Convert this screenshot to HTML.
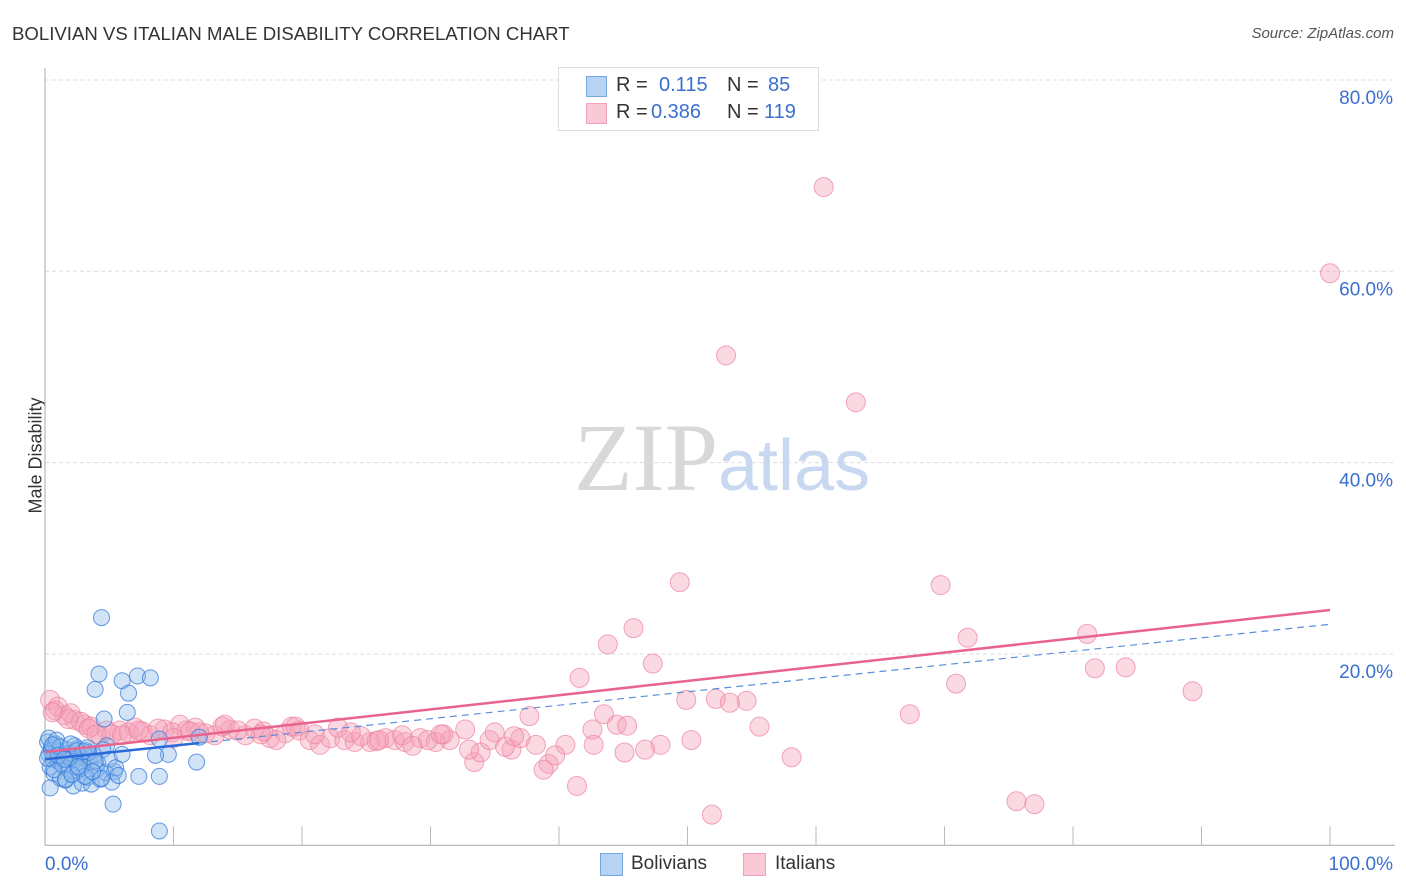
<!DOCTYPE html>
<html><head><meta charset="utf-8"><style>
body{margin:0;background:#fff;font-family:"Liberation Sans",sans-serif}
#wrap{position:relative;width:1406px;height:892px;overflow:hidden}
.t{position:absolute;white-space:nowrap}
</style></head><body>
<div id="wrap">
<div class="t" style="left:12px;top:23px;font-size:18.6px;color:#333">BOLIVIAN VS ITALIAN MALE DISABILITY CORRELATION CHART</div>
<div class="t" style="right:12px;top:25px;font-size:15px;color:#555;font-style:italic">Source: ZipAtlas.com</div>
<div class="t" style="left:-22px;top:445px;font-size:18px;color:#333;transform:rotate(-90deg)">Male Disability</div>
<svg id="plot" width="1406" height="892" style="position:absolute;left:0;top:0"></svg>
<div style="position:absolute;left:558px;top:67px;width:259px;height:62px;border:1px solid #ddd;background:#fff;font-size:20px">
 <div style="position:absolute;left:27px;top:8px;width:19px;height:19px;background:#b8d2f4;border:1px solid #7aa6e0"></div>
 <div class="t" style="left:57px;top:6px;color:#333">R = </div><div class="t" style="left:100px;top:6px;color:#3a6fd0">0.115</div>
 <div class="t" style="left:168px;top:6px;color:#333">N = </div><div class="t" style="left:209px;top:6px;color:#3a6fd0">85</div>
 <div style="position:absolute;left:27px;top:35px;width:19px;height:19px;background:#f9c9d6;border:1px solid #f0a0b8"></div>
 <div class="t" style="left:57px;top:33px;color:#333">R = </div><div class="t" style="left:92px;top:33px;color:#3a6fd0">0.386</div>
 <div class="t" style="left:168px;top:33px;color:#333">N = </div><div class="t" style="left:205px;top:33px;color:#3a6fd0">119</div>
</div>
<div style="position:absolute;left:600px;top:853px;width:21px;height:21px;background:#b8d2f4;border:1px solid #7aa6e0"></div>
<div class="t" style="left:631px;top:853px;font-size:19px;color:#333">Bolivians</div>
<div style="position:absolute;left:743px;top:853px;width:21px;height:21px;background:#f9c9d6;border:1px solid #f0a0b8"></div>
<div class="t" style="left:775px;top:853px;font-size:19px;color:#333">Italians</div>
</div>
<script>
const yTicks=[20,40,60,80];
const yTickLabels=["20.0%","40.0%","60.0%","80.0%"];
const xTickLabels=["0.0%","100.0%"];
const pinkX=[60.6,100,53.0,63.1,49.4,69.7,45.8,43.8,71.8,81.1,47.3,81.7,84.1,41.6,70.9,89.3,49.9,52.2,54.6,53.3,67.3,43.5,37.7,55.6,44.5,45.3,42.6,50.3,47.9,46.7,45.1,42.7,40.5,58.1,39.2,38.8,41.4,51.9,75.6,77.0,33.4,33.9,36.3,39.7,
0.4,0.8,1.5,2.3,3.1,4.3,5.8,7.0,8.2,9.3,10.5,11.7,12.5,13.2,14.4,15.6,16.3,17.5,18.7,19.8,20.6,21.4,22.2,23.3,24.1,25.3,26.5,27.2,28.0,29.2,30.4,31.5,32.7,34.6,35.8,37.0,
1.0,2.0,2.8,3.6,4.8,5.2,6.5,7.6,8.8,9.9,11.0,12.0,13.8,15.0,16.8,18.0,19.2,21.0,22.8,24.6,25.8,27.8,29.8,31.0,33.0,35.0,36.5,38.2,
0.6,1.8,3.4,4.0,6.0,7.3,10.0,11.3,14.0,17.0,19.5,23.8,26.0,28.6,30.8];
const pinkY=[68.8,59.8,51.2,46.3,27.5,27.2,22.7,21.0,21.7,22.1,19.0,18.5,18.6,17.5,16.9,16.1,15.2,15.3,15.1,14.9,13.7,13.7,13.5,12.4,12.6,12.5,12.1,11.0,10.5,10.0,9.7,10.5,10.5,9.2,8.5,7.9,6.2,3.2,4.6,4.3,8.7,9.7,10.0,9.4,
15.2,14.1,13.6,13.1,12.6,11.5,12.0,12.3,11.5,12.1,12.6,12.3,11.7,11.5,12.1,11.5,12.2,11.2,11.7,12.0,11.0,10.5,11.2,11.0,10.8,10.8,11.2,11.0,10.8,11.2,10.8,11.0,12.1,11.0,10.3,11.2,
14.5,13.8,12.9,12.4,12.0,11.6,11.8,11.9,12.2,11.8,12.0,11.8,12.4,12.0,11.6,11.0,12.4,11.6,12.3,11.4,10.9,11.5,11.0,11.6,10.0,11.8,11.4,10.5,
13.9,13.2,12.2,11.6,11.5,12.0,11.2,11.9,12.6,11.9,12.4,11.8,11.0,10.4,11.6];
const blueX=[4.4,4.2,7.2,8.2,6.0,3.9,6.5,6.4,4.6,4.8,8.9,12.0,9.6,8.6,11.8,7.3,8.9,5.3,8.9,5.4,
0.2,0.3,0.4,0.5,0.6,0.7,0.8,1.0,1.1,1.2,1.3,1.5,1.6,1.7,1.8,2.0,2.1,2.2,2.4,2.5,2.6,2.8,2.9,3.0,3.2,3.3,3.5,3.6,3.8,4.0,4.1,4.3,4.5,4.7,5.0,5.2,5.5,5.7,6.0,0.3,0.5,0.9,1.4,1.9,2.3,2.7,3.1,3.4,3.9,4.4,0.4,0.7,1.2,1.6,2.1,2.6,3.0,3.7,0.2,0.6,1.0,1.5,2.0,2.5,3.3];
const blueY=[23.8,17.9,17.7,17.5,17.2,16.3,15.9,13.9,13.2,10.4,11.1,11.3,9.5,9.4,8.7,7.2,7.2,4.3,1.5,7.7,
10.8,9.5,8.2,10.2,9.0,7.5,10.6,8.8,9.8,7.0,8.5,9.3,6.8,10.0,8.0,9.6,7.4,6.2,8.9,10.1,7.8,9.2,6.5,8.4,9.9,7.1,8.7,6.4,9.4,7.9,8.6,6.9,10.0,7.6,9.0,6.6,8.1,7.3,9.5,11.2,9.9,11.0,8.3,9.2,10.4,8.0,7.2,9.7,8.8,7.0,6.0,7.9,10.3,6.9,7.4,8.2,9.8,7.7,9.1,10.5,9.4,9.0,10.6,9.9,10.2];
const pinkTrend=[9.75,24.6];
const blueTrend=[9.0,23.1];
const svg=document.getElementById('plot');
const NS='http://www.w3.org/2000/svg';
const X0=45,X1=1330,Y0=845.3,YS=9.567;
const sx=v=>X0+v*(X1-X0)/100, sy=v=>Y0-v*YS;
function mk(t,a){const e=document.createElementNS(NS,t);for(const k in a)e.setAttribute(k,a[k]);svg.appendChild(e);return e;}
yTicks.forEach((v,i)=>{
 const g=mk('line',{x1:X0,x2:1395,y1:sy(v),y2:sy(v),stroke:'#ddd','stroke-dasharray':'4,3'});
 
 
 const t=mk('text',{x:1393,y:sy(v)+24,'text-anchor':'end','font-size':19,fill:'#3a6fd0','font-family':'Liberation Sans'});
 t.textContent=yTickLabels[i];
 
 
});
let ax=mk('line',{x1:X0,x2:X0,y1:68,y2:Y0,stroke:'#aaa'});


ax=mk('line',{x1:X0,x2:1395,y1:Y0,y2:Y0,stroke:'#aaa'});


for(let i=1;i<=10;i++){const x=sx(i*10);const tk=mk('line',{x1:x,x2:x,y1:Y0-19,y2:Y0,stroke:'#bbb'});
 
 }
[[0,'start',45],[100,'end',1393]].forEach((d,i)=>{const t=mk('text',{x:d[2],y:870,'text-anchor':d[1],'font-size':19,fill:'#3a6fd0','font-family':'Liberation Sans'});t.textContent=xTickLabels[i];
 
 });
let wm=mk('text',{x:718,y:490,'font-size':96,'font-family':'Liberation Serif',fill:'#d8d8d8'});
wm.textContent='ZIP';


wm.setAttribute('text-anchor','end');
wm=mk('text',{x:718,y:490,'font-size':72,'font-family':'Liberation Sans',fill:'#c8d8f0'});
wm.textContent='atlas';


pinkX.forEach((v,i)=>{const c=mk('circle',{cx:sx(v),cy:sy(pinkY[i]),r:9.5,fill:'rgba(244,160,185,0.4)',stroke:'rgba(236,130,160,0.7)','stroke-width':1});
 
 });
blueX.forEach((v,i)=>{const c=mk('circle',{cx:sx(v),cy:sy(blueY[i]),r:8,fill:'rgba(140,185,235,0.4)',stroke:'rgba(50,120,220,0.75)','stroke-width':1});
 
 });
const bAt=v=>blueTrend[0]+(blueTrend[1]-blueTrend[0])*v/100;
let l=mk('line',{x1:sx(12),x2:sx(100),y1:sy(bAt(12)),y2:sy(bAt(100)),stroke:'#5b8fdc','stroke-width':1.2,'stroke-dasharray':'7,5'});


l=mk('line',{x1:sx(0),x2:sx(100),y1:sy(pinkTrend[0]),y2:sy(pinkTrend[1]),stroke:'#e8648e','stroke-width':2.5});


l=mk('line',{x1:sx(0),x2:sx(12),y1:sy(bAt(0)),y2:sy(bAt(12)),stroke:'#2a6ad8','stroke-width':2.5});


</script>
</body></html>
